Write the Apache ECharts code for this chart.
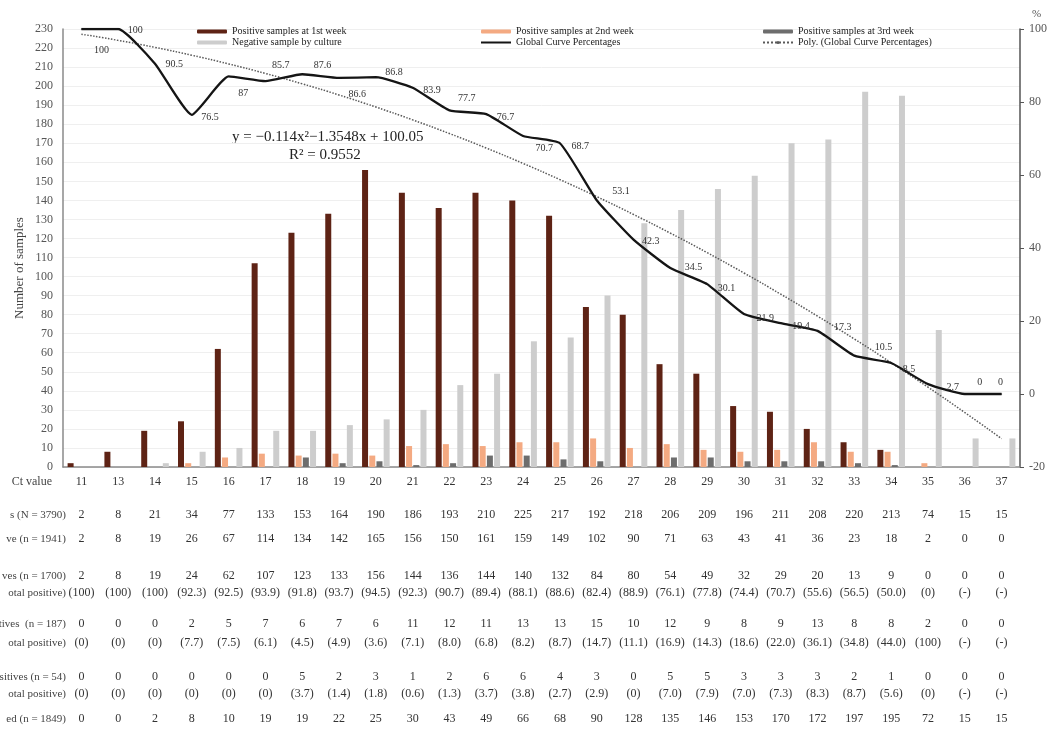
<!DOCTYPE html>
<html><head><meta charset="utf-8">
<script src="https://cdn.jsdelivr.net/npm/echarts@6/dist/echarts.min.js"></script>
<style>html,body{margin:0;padding:0;background:#fff}#c{width:1057px;height:733px}</style>
</head><body><div id="c"></div>
<script>
// ---- data ----
const ctValues = ['11','13','14','15','16','17','18','19','20','21','22','23','24','25','26','27','28','29','30','31','32','33','34','35','36','37'];
const week1 = [2,8,19,24,62,107,123,133,156,144,136,144,140,132,84,80,54,49,32,29,20,13,9,0,0,0];
const week2 = [0,0,0,2,5,7,6,7,6,11,12,11,13,13,15,10,12,9,8,9,13,8,8,2,0,0];
const week3 = [0,0,0,0,0,0,5,2,3,1,2,6,6,4,3,0,5,5,3,3,3,2,1,0,0,0];
const negative = [0,0,2,8,10,19,19,22,25,30,43,49,66,68,90,128,135,146,153,170,172,197,195,72,15,15];
const globalPct = [100,100,90.5,76.5,87,85.7,87.6,86.6,86.8,83.9,77.7,76.7,70.7,68.7,53.1,42.3,34.5,30.1,21.9,19.4,17.3,10.5,8.5,2.7,0,0];
const polyTrend = [98.58,96.88,94.96,92.81,90.43,87.82,84.98,81.92,78.62,75.10,71.35,67.38,63.17,58.74,54.08,49.19,44.07,38.73,33.15,27.35,21.33,15.07,8.58,1.87,-5.07,-12.24];
const totalSamples = [2,8,21,34,77,133,153,164,190,186,193,210,225,217,192,218,206,209,196,211,208,220,213,74,15,15];
const totalPositive = [2,8,19,26,67,114,134,142,165,156,150,161,159,149,102,90,71,63,43,41,36,23,18,2,0,0];
const week1Pct = ['(100)','(100)','(100)','(92.3)','(92.5)','(93.9)','(91.8)','(93.7)','(94.5)','(92.3)','(90.7)','(89.4)','(88.1)','(88.6)','(82.4)','(88.9)','(76.1)','(77.8)','(74.4)','(70.7)','(55.6)','(56.5)','(50.0)','(0)','(-)','(-)'];
const week2Pct = ['(0)','(0)','(0)','(7.7)','(7.5)','(6.1)','(4.5)','(4.9)','(3.6)','(7.1)','(8.0)','(6.8)','(8.2)','(8.7)','(14.7)','(11.1)','(16.9)','(14.3)','(18.6)','(22.0)','(36.1)','(34.8)','(44.0)','(100)','(-)','(-)'];
const week3Pct = ['(0)','(0)','(0)','(0)','(0)','(0)','(3.7)','(1.4)','(1.8)','(0.6)','(1.3)','(3.7)','(3.8)','(2.7)','(2.9)','(0)','(7.0)','(7.9)','(7.0)','(7.3)','(8.3)','(8.7)','(5.6)','(0)','(-)','(-)'];
const rowNames = ['Ct value','s (N = 3790)','ve (n = 1941)','ves (n = 1700)','otal positive)','tives  (n = 187)','otal positive)','sitives (n = 54)','otal positive)','ed (n = 1849)'];
const seriesNames = ['Positive samples at 1st week','Positive samples at 2nd week','Positive samples at 3rd week','Negative sample by culture','Global Curve Percentages','Poly. (Global Curve Percentages)'];

// ---- styling ----
const FONT = '"Liberation Serif","DejaVu Serif",serif';
const tableRows = [ctValues, totalSamples, totalPositive, week1, week1Pct, week2, week2Pct, week3, week3Pct, negative];
const rowOffsets = [15, 48, 72, 109, 126, 157, 176, 210, 227, 252];
const labelOffsets = [[7,21],[4,1],[5,1],[4,3],[4,17],[1,-16],[6,-9],[4,16],[4,-5],[5,3],[3,-12],[5,3],[7,12],[6,3],[10,-9],[3,2],[9,-1],[5,4],[7,4],[6,3],[11,-3],[15,-8],[6,6],[13,3],[7,-12],[-9,-12]];

const tableAxes = tableRows.map((row, k) => ({
  type: 'category', data: ctValues, gridIndex: 0, position: 'bottom',
  offset: rowOffsets[k],
  axisLine: {show: false, onZero: false}, axisTick: {show: false}, splitLine: {show: false},
  axisLabel: {interval: 0, margin: 0, verticalAlign: 'middle', fontFamily: FONT, fontSize: 12, color: '#333',
    formatter: (v, i) => String(row[i])},
  name: rowNames[k], nameLocation: 'start', nameGap: k === 0 ? 11 : -3, nameMoveOverlap: false,
  nameTextStyle: {fontFamily: FONT, fontSize: k === 0 ? 12 : 11, color: '#444'}
}));

const chart = echarts.init(document.getElementById('c'));
chart.setOption({
  animation: false,
  backgroundColor: '#fff',
  textStyle: {fontFamily: FONT},
  grid: {left: 63, right: 37, top: 29, bottom: 266, containLabel: false, outerBoundsMode: 'none'},
  legend: [
    {data: [seriesNames[0], seriesNames[3]]},
    {data: [seriesNames[1], {name: seriesNames[4], itemStyle: {opacity: 0}}]},
    {data: [seriesNames[2], seriesNames[5]]}
  ].map((l, i) => Object.assign(l, {
    orient: 'vertical', left: [197, 480, 762][i], top: 26, padding: 0, itemWidth: 30, itemHeight: 4, itemGap: 0,
    textStyle: {fontFamily: FONT, fontSize: 10, color: '#222', lineHeight: 11}
  })),
  xAxis: [{
    type: 'category', data: ctValues, gridIndex: 0, position: 'bottom',
    axisLine: {show: true, onZero: false, lineStyle: {color: '#8a8a8a', width: 1.5}},
    axisTick: {show: false}, axisLabel: {show: false}, splitLine: {show: false}
  }].concat(tableAxes),
  yAxis: [{
    type: 'value', min: 0, max: 230, interval: 10,
    axisLine: {show: true, lineStyle: {color: '#8a8a8a', width: 1.5}},
    axisTick: {show: false},
    axisLabel: {fontFamily: FONT, fontSize: 12, color: '#555', margin: 10},
    splitLine: {show: true, lineStyle: {color: '#efefef', width: 1}}
  }, {
    type: 'value', min: -20, max: 100, interval: 20, position: 'right',
    name: '%', nameLocation: 'end', nameGap: 9,
    nameTextStyle: {fontFamily: FONT, fontSize: 11, color: '#555', align: 'left', padding: [0,0,0,12]},
    axisLine: {show: true, lineStyle: {color: '#555', width: 1.5}},
    axisTick: {show: true, length: 4, lineStyle: {color: '#555'}},
    axisLabel: {fontFamily: FONT, fontSize: 12, color: '#555', margin: 9},
    splitLine: {show: false}
  }],
  series: [
    {name: seriesNames[0], type: 'bar', data: week1, barWidth: 6, barGap: '20%', itemStyle: {color: '#5e2315'}},
    {name: seriesNames[1], type: 'bar', data: week2, barWidth: 6, barGap: '20%', itemStyle: {color: '#f4aa82'}},
    {name: seriesNames[2], type: 'bar', data: week3, barWidth: 6, barGap: '20%', itemStyle: {color: '#6d6d6d'}},
    {name: seriesNames[3], type: 'bar', data: negative, barWidth: 6, barGap: '20%', itemStyle: {color: '#cdcdcd'}},
    {name: seriesNames[5], type: 'line', yAxisIndex: 1, data: polyTrend, smooth: true, symbol: 'none',
      lineStyle: {color: '#5a5a5a', width: 1.5, type: 'dotted'}, itemStyle: {color: '#5a5a5a'}, z: 3},
    {name: seriesNames[4], type: 'line', yAxisIndex: 1, smooth: 0.15, symbol: 'circle', symbolSize: 1, showSymbol: true,
      lineStyle: {color: '#151515', width: 2.3}, itemStyle: {color: '#151515'}, z: 4,
      data: globalPct.map((v, i) => ({value: v, label: {offset: labelOffsets[i]}})),
      label: {show: true, position: 'right', distance: 5, fontFamily: FONT, fontSize: 10, color: '#333'}}
  ],
  graphic: [
    {type: 'text', left: 232, top: 130, style: {text: 'y = −0.114x²−1.3548x + 100.05', font: '15px ' + FONT, fill: '#222'}},
    {type: 'text', left: 289, top: 148, style: {text: 'R² = 0.9552', font: '15px ' + FONT, fill: '#222'}},
    {type: 'text', x: 20, y: 268, rotation: Math.PI / 2,
      style: {text: 'Number of samples', font: '13px ' + FONT, fill: '#444', align: 'center', verticalAlign: 'middle'}}
  ]
});
</script>
</body></html>
